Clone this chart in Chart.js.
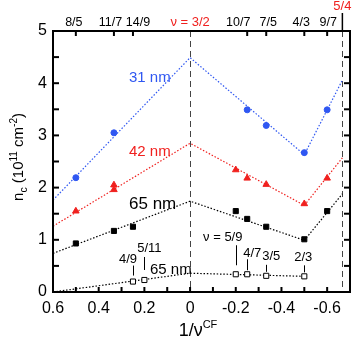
<!DOCTYPE html>
<html>
<head>
<meta charset="utf-8">
<script src="https://cdn.jsdelivr.net/npm/chart.js@4.4.1/dist/chart.umd.min.js"></script>
<style>
  html, body { margin: 0; padding: 0; background: #fff; }
  canvas { display: block; }
</style>
</head>
<body>
<canvas id="chart" width="357" height="342"></canvas>
<script>
// 1/nu^CF positions and n_c values (10^11 cm^-2)
const x31 = [0.5, 1 / 3, -0.25, -1 / 3, -0.5, -0.6];
const nc31 = [2.19, 3.05, 3.49, 3.19, 2.67, 3.49];
const x42 = [0.5, 1 / 3, 1 / 3, -0.2, -0.25, -1 / 3, -0.5, -0.6];
const nc42 = [1.55, 2.05, 1.96, 2.34, 2.18, 2.06, 1.69, 2.18];
const x65 = [0.5, 1 / 3, 0.25, -0.2, -0.25, -1 / 3, -0.5, -0.6];
const nc65 = [0.93, 1.17, 1.25, 1.55, 1.40, 1.25, 1.01, 1.55];
const xLow = [0.25, 0.2, -0.2, -0.25, -1 / 3, -0.5];
const ncLow = [0.20, 0.23, 0.34, 0.34, 0.31, 0.30];
const lowLabels = ["4/9", "5/11", "ν = 5/9", "4/7", "3/5", "2/3"];

// dotted guide lines
const fitX = [0.6, 0, -0.5, -2 / 3];
const fit31 = [1.76, 4.49, 2.63, 4.06];
const fit42 = [1.26, 2.85, 1.66, 2.57];
const fit65 = [0.74, 1.74, 0.99, 1.88];
const fitLowX = [0.6, 0, -0.5];
const fitLow = [0.0, 0.36, 0.30];

// top axis: filling factors
const topTicks = [0.5, 1 / 3, 0.25, -0.25, -1 / 3, -0.5, -0.6];
const topLabels = ["8/5", "11/7", "14/9", "10/7", "7/5", "4/3", "9/7"];
const dashedAt = [0, -2 / 3];

const FONT = "'Liberation Sans', Arial, Helvetica, sans-serif";
const BLUE = "#2f57f2";
const RED = "#f0201e";

// label nudges so the crowded top labels don't collide (px)
const topLabelDx = [-2, -3.5, 5, -9, 2, -3, 1];

const pts = (xs, ys) => xs.map((v, i) => ({ x: v, y: ys[i] }));

function markers(xs, ys, style, color, r, fill) {
    return {
        data: pts(xs, ys),
        showLine: false,
        pointStyle: style,
        pointRadius: r,
        pointBackgroundColor: fill || color,
        pointBorderColor: color,
        pointBorderWidth: 1,
        order: 0,
    };
}

function guide(xs, ys, color) {
    return {
        data: pts(xs, ys),
        showLine: true,
        pointRadius: 0,
        borderColor: color,
        borderWidth: 1.2,
        borderDash: [1.5, 1.8],
        fill: false,
        order: 1,
    };
}

// label layout for the open squares (offsets in px from the point)
const lowLayout = [
    { dx: -5, ty: -22, s0: -16, s1: -6 },
    { dx: 5, ty: -32, s0: -23, s1: -10 },
    { dx: -13, ty: -37, s0: -29, s1: -9 },
    { dx: 5, ty: -21, s0: -15, s1: -4 },
    { dx: 5, ty: -19, s0: -11, s1: -4 },
    { dx: -1, ty: -19, s0: -11, s1: -4 },
];

const curveLabels = [
    { text: "31 nm", x: 129, y: 78, color: BLUE, size: 15 },
    { text: "42 nm", x: 129, y: 152, color: RED, size: 15 },
    { text: "65 nm", x: 129, y: 204, color: "#000", size: 17 },
    { text: "65 nm", x: 150, y: 270, color: "#000", size: 15 },
];

function line(ctx, x0, y0, x1, y1) {
    ctx.beginPath();
    ctx.moveTo(x0, y0);
    ctx.lineTo(x1, y1);
    ctx.stroke();
}

const overlay = {
    id: "overlay",
    beforeDatasetsDraw(chart) {
        const { ctx, chartArea: a, scales: { x } } = chart;
        ctx.save();
        ctx.strokeStyle = "#444";
        ctx.lineWidth = 1;
        ctx.setLineDash([6, 4]);
        dashedAt.forEach((v) => {
            const px = Math.round(x.getPixelForValue(v)) + 0.5;
            line(ctx, px, a.top, px, a.bottom);
        });
        ctx.restore();
    },
    afterDraw(chart) {
        const { ctx, chartArea: a, scales: { x, x2, y } } = chart;
        ctx.save();

        // frame
        ctx.strokeStyle = "#000";
        ctx.lineWidth = 2;
        ctx.strokeRect(a.left, a.top, a.right - a.left, a.bottom - a.top);

        // inward ticks
        x.ticks.forEach((t) => {
            const px = x.getPixelForValue(t.value);
            line(ctx, px, a.bottom, px, a.bottom - 5);
        });
        x2.ticks.forEach((t) => {
            const px = x2.getPixelForValue(t.value);
            line(ctx, px, a.top, px, a.top + 5);
        });
        y.ticks.forEach((t) => {
            const py = y.getPixelForValue(t.value);
            line(ctx, a.left, py, a.left + 6, py);
            line(ctx, a.right, py, a.right - 6, py);
        });

        // top labels (filling factors)
        ctx.fillStyle = "#000";
        ctx.textAlign = "center";
        ctx.textBaseline = "middle";
        ctx.font = `12.5px ${FONT}`;
        x2.ticks.forEach((t, i) => {
            ctx.fillText(topLabels[i], x2.getPixelForValue(t.value) + topLabelDx[i], 22.5);
        });

        // 5/4 marker above the top axis
        const p54 = x.getPixelForValue(-2 / 3);
        ctx.lineWidth = 1.5;
        line(ctx, p54, 13, p54, a.top);

        // red top labels
        ctx.fillStyle = RED;
        ctx.font = `13px ${FONT}`;
        ctx.fillText("ν = 3/2", x.getPixelForValue(0), 22.5);
        ctx.fillText("5/4", p54, 6.5);

        // curve labels
        ctx.textAlign = "left";
        curveLabels.forEach((l) => {
            ctx.fillStyle = l.color;
            ctx.font = `${l.size}px ${FONT}`;
            ctx.fillText(l.text, l.x, l.y);
        });

        // filling factor labels of open squares
        ctx.fillStyle = "#000";
        ctx.strokeStyle = "#000";
        ctx.lineWidth = 1;
        ctx.textAlign = "center";
        ctx.font = `13px ${FONT}`;
        xLow.forEach((v, i) => {
            const px = x.getPixelForValue(v);
            const py = y.getPixelForValue(ncLow[i]);
            const L = lowLayout[i];
            ctx.fillText(lowLabels[i], px + L.dx, py + L.ty);
            const sx = Math.round(px) + 0.5;
            line(ctx, sx, py + L.s0, sx, py + L.s1);
        });

        // y title
        ctx.save();
        ctx.translate(18, 157);
        ctx.rotate(-Math.PI / 2);
        const parts = [
            ["n", 15, 0],
            ["c", 10.5, 4],
            [" (10", 15, 0],
            ["11", 10, -6],
            [" cm", 15, 0],
            ["-2", 10, -6],
            [")", 15, 0],
        ];
        let w = 0;
        parts.forEach((p) => {
            ctx.font = `${p[1]}px ${FONT}`;
            w += ctx.measureText(p[0]).width;
        });
        let cx = -w / 2;
        ctx.textAlign = "left";
        ctx.textBaseline = "alphabetic";
        parts.forEach((p) => {
            ctx.font = `${p[1]}px ${FONT}`;
            ctx.fillText(p[0], cx, 5 + p[2]);
            cx += ctx.measureText(p[0]).width;
        });
        ctx.restore();

        // x title
        ctx.textAlign = "left";
        ctx.textBaseline = "alphabetic";
        ctx.font = `18px ${FONT}`;
        const main = "1/ν";
        const mw = ctx.measureText(main).width;
        ctx.font = `11px ${FONT}`;
        const sw = ctx.measureText("CF").width;
        const x0 = 198 - (mw + sw) / 2;
        ctx.font = `18px ${FONT}`;
        ctx.fillText(main, x0, 336);
        ctx.font = `11px ${FONT}`;
        ctx.fillText("CF", x0 + mw, 328);

        ctx.restore();
    },
};

const tickFont = { family: FONT, size: 16 };

new Chart(document.getElementById("chart"), {
    type: "scatter",
    data: {
        datasets: [
            markers(x31, nc31, "circle", BLUE, 3),
            markers(x42, nc42, "triangle", RED, 3.8),
            markers(x65, nc65, "rect", "#000", 3.6),
            markers(xLow, ncLow, "rect", "#000", 3.6, "#fff"),
            guide(fitX, fit31, BLUE),
            guide(fitX, fit42, RED),
            guide(fitX, fit65, "#000"),
            guide(fitLowX, fitLow, "#000"),
        ],
    },
    options: {
        responsive: false,
        animation: false,
        layout: { padding: { left: 0, right: 1.5, top: 0, bottom: 0 } },
        plugins: { legend: { display: false }, tooltip: { enabled: false } },
        scales: {
            x: {
                type: "linear",
                position: "bottom",
                min: -0.7,
                max: 0.6,
                reverse: true,
                grid: { display: false, drawTicks: false },
                border: { display: false },
                ticks: {
                    stepSize: 0.1,
                    autoSkip: false,
                    maxRotation: 0,
                    padding: 7,
                    color: "#000",
                    font: tickFont,
                    callback: (v) => {
                        const k = Math.round(v * 10);
                        return k % 2 === 0 ? String(k / 10) : "";
                    },
                },
                afterFit: (s) => { s.height = 50; },
            },
            x2: {
                type: "linear",
                position: "top",
                min: -0.7,
                max: 0.6,
                reverse: true,
                grid: { display: false, drawTicks: false },
                border: { display: false },
                afterBuildTicks: (s) => {
                    s.ticks = topTicks.map((v) => ({ value: v }));
                },
                ticks: { display: false },
                afterFit: (s) => { s.height = 31; },
            },
            y: {
                min: 0,
                max: 5,
                grid: { display: false, drawTicks: false },
                border: { display: false },
                ticks: {
                    stepSize: 0.5,
                    padding: 6,
                    color: "#000",
                    font: tickFont,
                    callback: (v) => (Number.isInteger(v) ? String(v) : ""),
                },
                afterFit: (s) => { s.width = 53; },
            },
        },
    },
    plugins: [overlay],
});
</script>
</body>
</html>
